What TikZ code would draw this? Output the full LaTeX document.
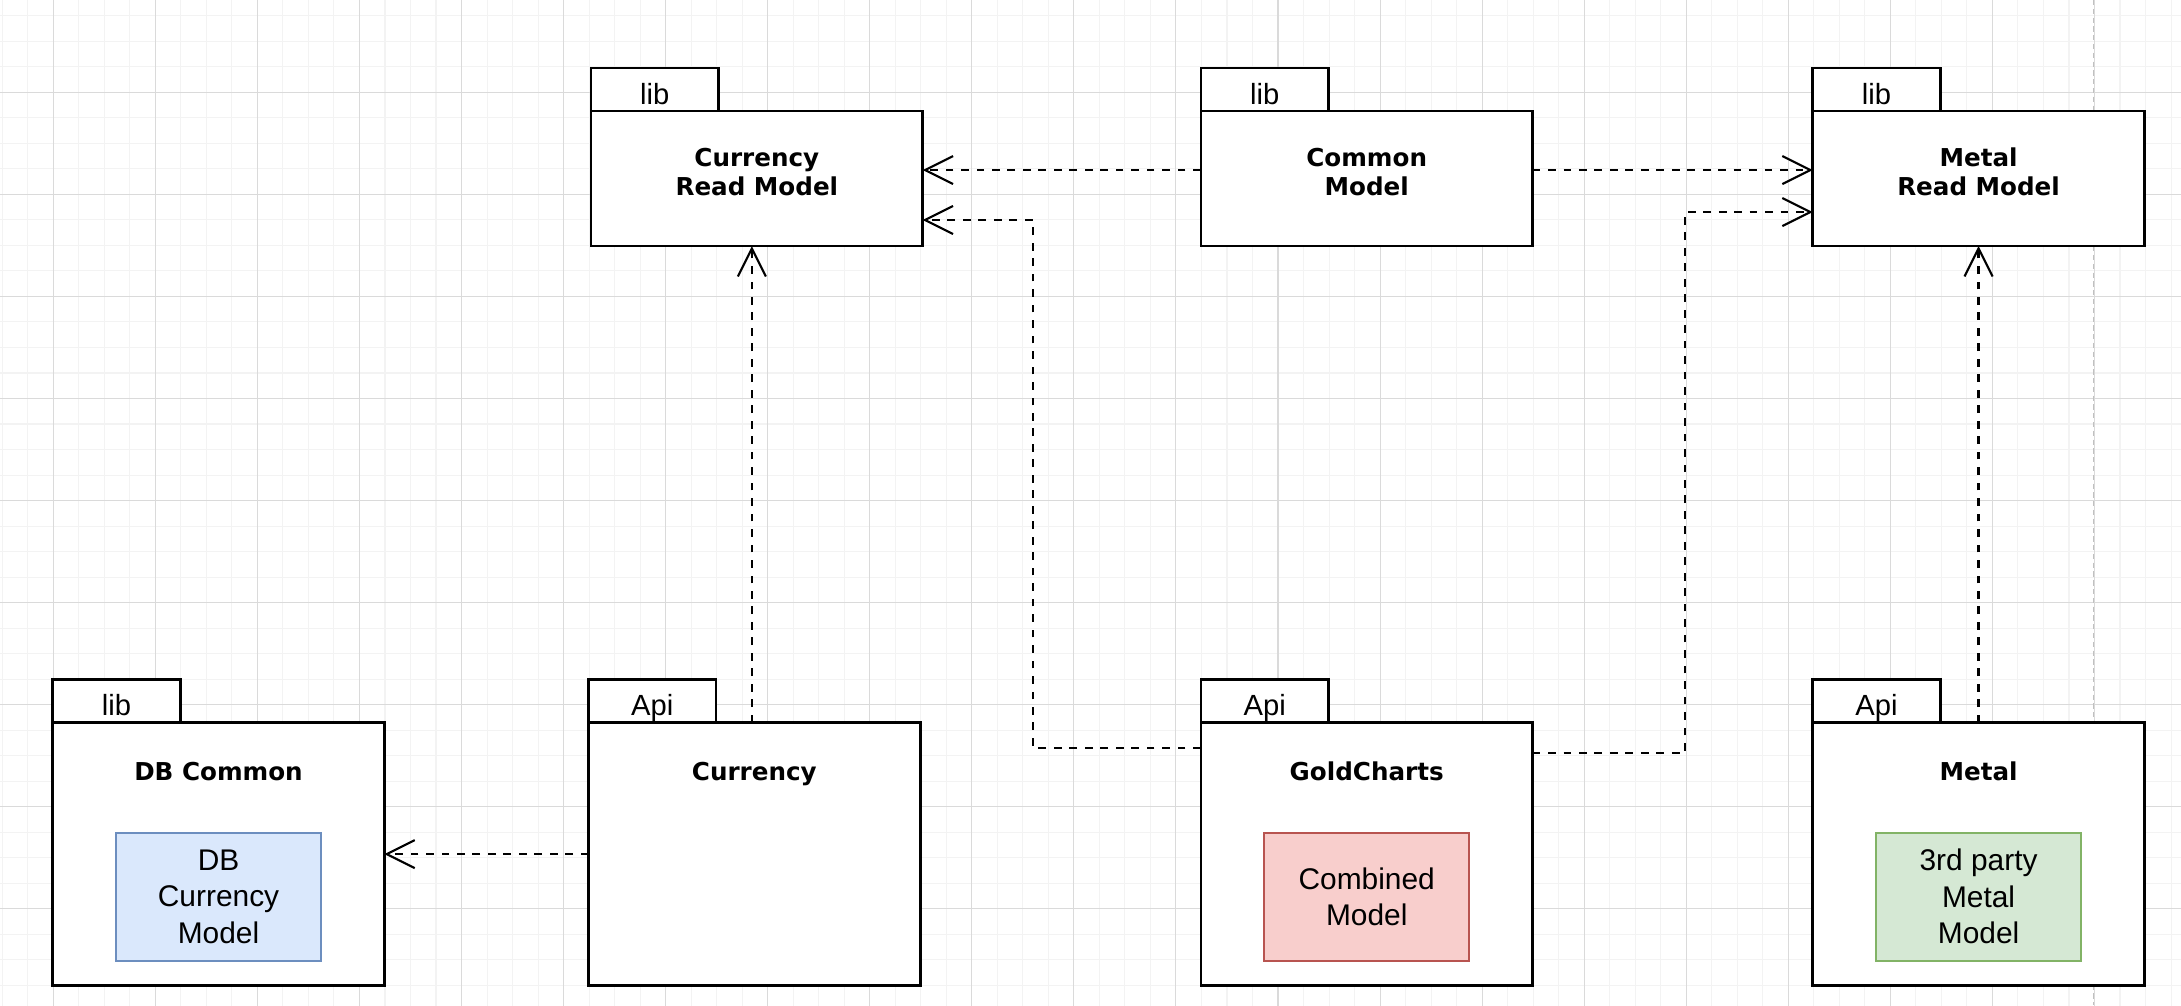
\documentclass[tikz,border=0pt]{standalone}
\usepackage{fontspec}
\setmainfont{Liberation Sans}
\newfontfamily\namefont{DejaVu Sans}
\usetikzlibrary{positioning,arrows.meta}
\definecolor{gridmajor}{RGB}{218,218,218}
\definecolor{gridminor}{RGB}{243,243,243}
\definecolor{pagerule}{RGB}{192,192,192}
\definecolor{bluefill}{HTML}{DAE8FC}
\definecolor{bluedraw}{HTML}{6C8EBF}
\definecolor{redfill}{HTML}{F8CECC}
\definecolor{reddraw}{HTML}{B85450}
\definecolor{greenfill}{HTML}{D5E8D4}
\definecolor{greendraw}{HTML}{82B366}
\newcommand\namesize{\fontsize{7}{8.35}\selectfont}
\newcommand\modelsize{\fontsize{8.5}{10.4}\selectfont}
\newcommand\tabsize{\fontsize{8.3}{10}\selectfont}
\tikzset{
  dep/.style={-{Straight Barb[length=2.8mm, width=2.8mm, line width=0.6pt]}, line width=0.65pt, dash pattern=on 2.2pt off 2.2pt},
  pkg/.style={draw, fill=white, line width=0.75pt, outer sep=0pt, inner sep=0pt, minimum width=33.15mm},
  pkgtop/.style={pkg, minimum height=13.5mm},
  pkgbot/.style={pkg, minimum height=26.3mm},
  tabbox/.style={pkg, minimum width=12.75mm, minimum height=4.3mm, anchor=south west, text height=2.94mm, text depth=0pt, font=\tabsize},
  pkgname/.style={font=\namefont\bfseries\namesize, align=center},
  model/.style={draw, line width=0.6pt, minimum width=20.5mm, minimum height=12.8mm, align=center, font=\modelsize},
  bluebox/.style={model, fill=bluefill, draw=bluedraw},
  redbox/.style={model, fill=redfill, draw=reddraw},
  greenbox/.style={model, fill=greenfill, draw=greendraw}
}
\begin{document}
\begin{tikzpicture}[x=0.01cm, y=-0.01cm]
  \useasboundingbox (0,0) rectangle (2181,1005);
  \fill[white] (0,0) rectangle (2181,1005);
  \clip (0,0) rectangle (2181,1005);
  % background grid
  \begin{scope}[shift={(53.3,92.3)}]
    \draw[gridminor, line width=0.3pt, step=2.55mm] (-60,-100) grid (2140,920);
    \draw[gridmajor, line width=0.3pt, step=10.2mm] (-60,-100) grid (2140,920);
  \end{scope}
  \draw[pagerule, line width=0.4pt, dash pattern=on 1.5pt off 1pt] (2093.7,0) -- (2093.7,1005);

  % read models
  \node[pkgtop, anchor=north west] (crm) at (591,111) {};
  \node[pkgtop, right=27.8mm of crm] (cmm) {};
  \node[pkgtop, right=28mm of cmm] (mrm) {};
  \node[tabbox] (crmtab) at (crm.north west) {lib};
  \node[tabbox] (cmmtab) at (cmm.north west) {lib};
  \node[tabbox] (mrmtab) at (mrm.north west) {lib};
  \node[pkgname] (crmname) at ([yshift=-6.1mm]crm.north) {Currency\\Read Model};
  \node[pkgname] (cmmname) at ([yshift=-6.1mm]cmm.north) {Common\\Model};
  \node[pkgname] (mrmname) at ([yshift=-6.1mm]mrm.north) {Metal\\Read Model};

  % api and db packages
  \node[pkgbot, anchor=north west] (cur) at (588.5,722.5) {};
  \node[pkgbot, left=20.4mm of cur] (dbc) {};
  \node[pkgbot, right=28.05mm of cur] (gold) {};
  \node[pkgbot, right=28mm of gold] (met) {};
  \node[tabbox] (dbctab) at (dbc.north west) {lib};
  \node[tabbox] (curtab) at (cur.north west) {Api};
  \node[tabbox] (goldtab) at (gold.north west) {Api};
  \node[tabbox] (mettab) at (met.north west) {Api};
  \node[pkgname, anchor=base] (dbcname) at ([yshift=-5.8mm]dbc.north) {DB Common};
  \node[pkgname, anchor=base] (curname) at ([yshift=-5.8mm]cur.north) {Currency};
  \node[pkgname, anchor=base] (goldname) at ([yshift=-5.8mm]gold.north) {GoldCharts};
  \node[pkgname, anchor=base] (metname) at ([yshift=-5.8mm]met.north) {Metal};
  \node[bluebox] (dbcmodel) at ([yshift=-4.25mm]dbc.center) {DB\\Currency\\Model};
  \node[redbox] (goldmodel) at ([yshift=-4.25mm]gold.center) {Combined\\Model};
  \node[greenbox] (metmodel) at ([yshift=-4.25mm]met.center) {3rd party\\Metal\\Model};

  % dependencies
  \coordinate (goldleft) at (1033,220);
  \coordinate (goldright) at (1685,212);
  \draw[dep] ([yshift=0.85mm]cmm.west) -- ([yshift=0.85mm]crm.east);
  \draw[dep] ([yshift=0.85mm]cmm.east) -- ([yshift=0.85mm]mrm.west);
  \draw[dep] ([yshift=-2.55mm]gold.north west) -| (goldleft) -- (goldleft -| crm.east);
  \draw[dep] ([yshift=-3.05mm]gold.north east) -| (goldright) -- (goldright -| mrm.west);
  \draw[dep] ([xshift=-0.25mm]cur.north) -- ([xshift=-0.25mm]cur.north |- crm.south);
  \draw[dep] (met.north) -- (met.north |- mrm.south);
  \draw[dep] (cur.west) -- (dbc.east);
\end{tikzpicture}
\end{document}
